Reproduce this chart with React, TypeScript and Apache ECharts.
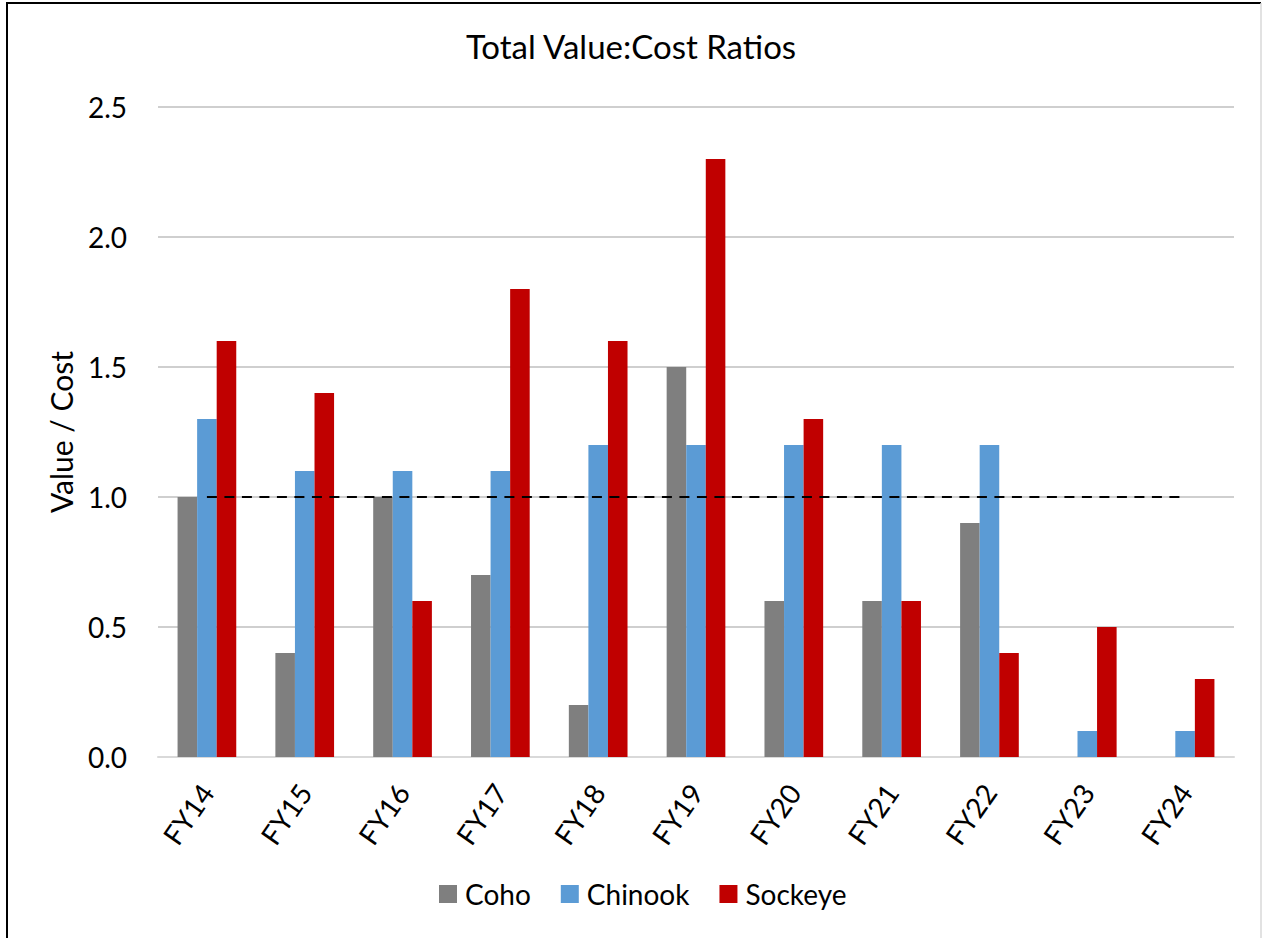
import React, { useEffect, useRef } from "react";
import * as echarts from "echarts";

const categories = ["FY14", "FY15", "FY16", "FY17", "FY18", "FY19", "FY20", "FY21", "FY22", "FY23", "FY24"];
const coho = [1.0, 0.4, 1.0, 0.7, 0.2, 1.5, 0.6, 0.6, 0.9, 0, 0];
const chinook = [1.3, 1.1, 1.1, 1.1, 1.2, 1.2, 1.2, 1.2, 1.2, 0.1, 0.1];
const sockeye = [1.6, 1.4, 0.6, 1.8, 1.6, 2.3, 1.3, 0.6, 0.4, 0.5, 0.3];
const breakEven = [1, 1, 1, 1, 1, 1, 1, 1, 1, 1, 1];

const FONT = "Lato";

export default function App() {
  const ref = useRef<HTMLDivElement>(null);
  useEffect(() => {
    document.body.style.margin = "0";
    const chart = echarts.init(ref.current!, null, { renderer: "svg" });
    chart.setOption({
      animation: false,
      backgroundColor: "#fff",
      textStyle: { fontFamily: FONT },
      title: {
        text: "Total Value:Cost Ratios",
        left: "center",
        top: 24,
        textStyle: { fontFamily: FONT, fontSize: 33, fontWeight: "normal", color: "#000" },
      },
      legend: {
        top: 875,
        left: 434,
        itemWidth: 18,
        itemHeight: 18,
        itemGap: 30,
        data: ["Coho", "Chinook", "Sockeye"],
        textStyle: { fontFamily: FONT, fontSize: 28, color: "#000", padding: [0, 0, 0, 3] },
        icon: "rect",
      },
      grid: { left: 158, right: 28, top: 107, bottom: 181, containLabel: false },
      xAxis: {
        type: "category",
        data: categories,
        axisLine: { lineStyle: { color: "#D9D9D9", width: 2 } },
        axisTick: { show: false },
        axisLabel: {
          rotate: 55,
          margin: 30,
          verticalAlign: "middle",
          padding: [18, 0, 0, 0],
          fontFamily: FONT,
          fontSize: 28,
          color: "#000",
        },
      },
      yAxis: {
        type: "value",
        min: 0,
        max: 2.5,
        interval: 0.5,
        name: "Value / Cost",
        nameLocation: "middle",
        nameGap: 82,
        nameTextStyle: { fontFamily: FONT, fontSize: 30, color: "#000" },
        axisLine: { show: false },
        axisTick: { show: false },
        axisLabel: {
          margin: 31,
          fontFamily: FONT,
          fontSize: 28,
          color: "#000",
          formatter: (v: number) => v.toFixed(1),
        },
        splitLine: { lineStyle: { color: "#BFBFBF", width: 1.5 } },
      },
      series: [
        { name: "Coho", type: "bar", data: coho, itemStyle: { color: "#7F7F7F" }, barGap: "0%", barCategoryGap: "40%" },
        { name: "Chinook", type: "bar", data: chinook, itemStyle: { color: "#5B9BD5" } },
        { name: "Sockeye", type: "bar", data: sockeye, itemStyle: { color: "#C00000" } },
        {
          name: "Break-even",
          type: "line",
          data: breakEven,
          symbol: "none",
          z: 5,
          lineStyle: { color: "#000", width: 2, type: [10, 7.5] },
        },
      ],
      graphic: [
        { type: "line", shape: { x1: 7, y1: 3, x2: 7, y2: 938 }, style: { stroke: "#000", lineWidth: 2 } },
        { type: "line", shape: { x1: 6, y1: 3, x2: 1261, y2: 3 }, style: { stroke: "#000", lineWidth: 2 } },
        { type: "line", shape: { x1: 1261, y1: 3, x2: 1261, y2: 938 }, style: { stroke: "#D9D9D9", lineWidth: 1.5 } },
      ],
    });
    return () => chart.dispose();
  }, []);
  return <div ref={ref} style={{ width: 1262, height: 938 }} />;
}
